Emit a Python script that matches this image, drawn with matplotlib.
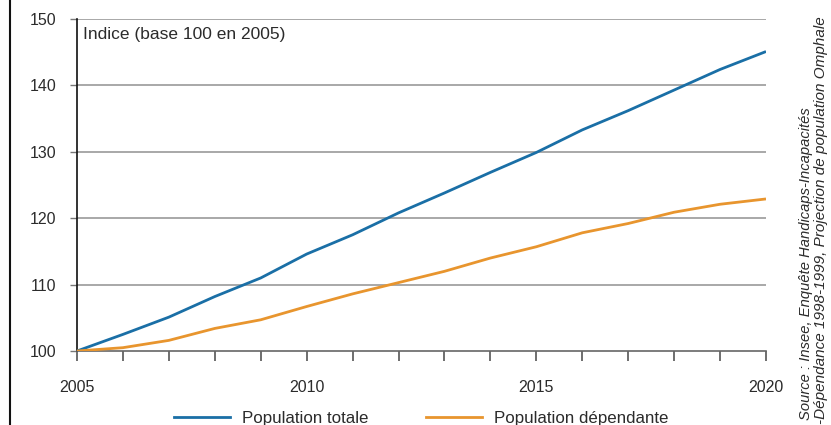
import matplotlib
matplotlib.use("Agg")
import matplotlib.pyplot as plt
from matplotlib.lines import Line2D

plt.rcParams['font.family'] = ['Liberation Sans', 'DejaVu Sans']

years = list(range(2005, 2021))
pop_totale = [100.0, 102.5, 105.1, 108.2, 111.0, 114.6, 117.5, 120.8, 123.8,
              126.9, 129.9, 133.3, 136.2, 139.3, 142.4, 145.1]
pop_dependante = [100.0, 100.5, 101.6, 103.4, 104.7, 106.7, 108.6, 110.3, 112.0,
                  114.0, 115.7, 117.8, 119.2, 120.9, 122.1, 122.9]
series_labels = ["Population totale", "Population dépendante"]
yticks = [100, 110, 120, 130, 140, 150]
xticks = [2005, 2010, 2015, 2020]
note = "Indice (base 100 en 2005)"
source1 = "Source : Insee, Enquête Handicaps-Incapacités"
source2 = "-Dépendance 1998-1999, Projection de population Omphale"

W, H = 831, 425
fig = plt.figure(figsize=(W / 100, H / 100), dpi=100)
ax = fig.add_axes([77 / W, (H - 351) / H, (766 - 77) / W, (351 - 19) / H])

blue = "#1a6fa6"
orange = "#e8952e"
txt = "#2b2b2b"
grid = "#9a9a9a"

ax.plot(years, pop_totale, color=blue, lw=2.0, solid_capstyle='butt', zorder=3)
ax.plot(years, pop_dependante, color=orange, lw=2.0, solid_capstyle='butt', zorder=3)

ax.set_xlim(2005, 2020)
ax.set_ylim(100, 150)
ax.set_yticks(yticks)
ax.set_xticks(years)
ax.set_xticklabels([str(y) if y in xticks else "" for y in years])
for y in yticks[1:]:
    ax.axhline(y, color=grid, lw=1.2, zorder=1)

for s in ['top', 'right']:
    ax.spines[s].set_visible(False)
ax.spines['left'].set_color('#111111')
ax.spines['left'].set_linewidth(1.2)
ax.spines['bottom'].set_color('#666666')
ax.spines['bottom'].set_linewidth(1.2)

ax.tick_params(axis='y', length=5, width=1, color='#777777', pad=10,
               labelsize=11.5, labelcolor=txt)
ax.tick_params(axis='x', length=7, width=1.2, color='#555555', pad=14,
               labelsize=11.5, labelcolor=txt)

fig.text(83 / W, 1 - 34 / H, note, fontsize=12.5, color=txt,
         ha='left', va='center')

handles = [Line2D([], [], color=blue, lw=2), Line2D([], [], color=orange, lw=2)]
fig.legend(handles, series_labels, loc='center', bbox_to_anchor=(421.5 / W, 1 - 418 / H),
           ncol=2, frameon=False, fontsize=12.2, handlelength=3.3, handletextpad=0.7,
           columnspacing=3.4, labelcolor=txt)

fig.text(806 / W, 1 - 420 / H, source1, rotation=90, ha='center', va='bottom',
         fontsize=10.6, style='italic', color=txt)
fig.text(821 / W, 1 - 424 / H, source2, rotation=90, ha='center', va='bottom',
         fontsize=11, style='italic', color=txt)

fig.add_artist(Line2D([10 / W, 10 / W], [0, 1], transform=fig.transFigure,
                      color='#111111', lw=1.5))

fig.savefig("out.png", dpi=100)
